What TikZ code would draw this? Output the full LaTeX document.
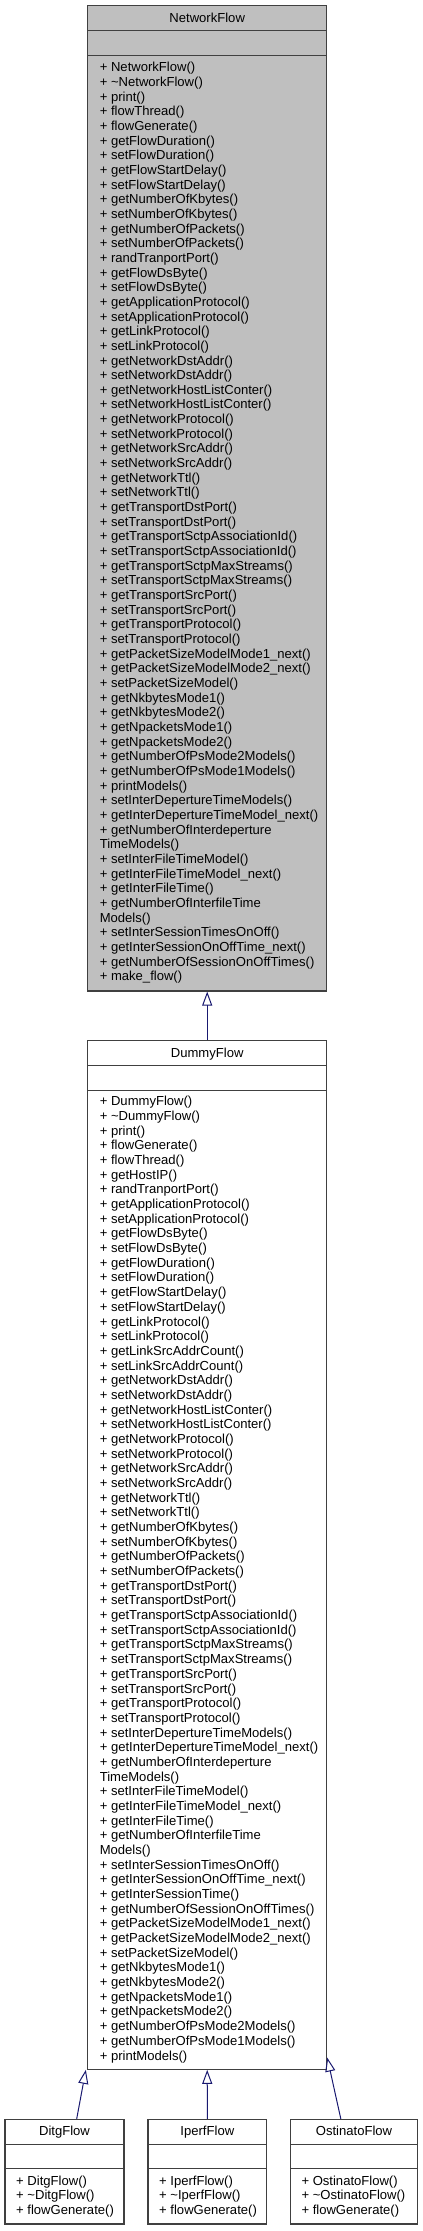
\documentclass[tikz,border=0pt]{standalone}
\usepackage{fontspec}
\setmainfont{Liberation Sans}
\usetikzlibrary{arrows.meta}

\definecolor{edgeblue}{RGB}{25,25,112}
\definecolor{basegray}{RGB}{191,191,191}

\tikzset{every picture/.style={line width=0.75pt}}
\tikzset{
  classbox/.style={draw=black!75, line width=0.8pt, fill=white, inner sep=0pt},
  partline/.style={draw=black!75, line width=0.8pt},
  classname/.style={font=\fontsize{9.8}{11}\selectfont, inner sep=0pt, anchor=base},
  member/.style={font=\fontsize{9.8}{11}\selectfont, anchor=base west, inner sep=0pt},
  inherit/.style={draw=edgeblue, line width=0.75pt, -{Triangle[open, length=10.5pt, width=7.5pt]}}
}

\begin{document}
\begin{tikzpicture}[x=0.75pt,y=0.75pt,yscale=-1,xscale=1]
	\useasboundingbox (0,0) rectangle (423,2231);

	%Shape: Rectangle [NetworkFlow]
	\node [classbox, fill=basegray, minimum width=179.25pt, minimum height=739pt] (nf) at (207.2,498.35) {};
	\draw [partline] ([yshift=19.3pt]nf.north west) -- ([yshift=19.3pt]nf.north east) ;
	\draw [partline] ([yshift=38.1pt]nf.north west) -- ([yshift=38.1pt]nf.north east) ;
	% Text Node
	\node [classname] (nftitle) at (207.2,22.3) {NetworkFlow};
	% Text Nodes
	\foreach \m [count=\i from 0] in {+ NetworkFlow(), + \textasciitilde NetworkFlow(), + print(), + flowThread(), + flowGenerate(),
		+ getFlowDuration(), + setFlowDuration(), + getFlowStartDelay(), + setFlowStartDelay(),
		+ getNumberOfKbytes(), + setNumberOfKbytes(), + getNumberOfPackets(), + setNumberOfPackets(),
		+ randTranportPort(), + getFlowDsByte(), + setFlowDsByte(),
		+ getApplicationProtocol(), + setApplicationProtocol(), + getLinkProtocol(), + setLinkProtocol(),
		+ getNetworkDstAddr(), + setNetworkDstAddr(), + getNetworkHostListConter(), + setNetworkHostListConter(),
		+ getNetworkProtocol(), + setNetworkProtocol(), + getNetworkSrcAddr(), + setNetworkSrcAddr(),
		+ getNetworkTtl(), + setNetworkTtl(), + getTransportDstPort(), + setTransportDstPort(),
		+ getTransportSctpAssociationId(), + setTransportSctpAssociationId(),
		+ getTransportSctpMaxStreams(), + setTransportSctpMaxStreams(),
		+ getTransportSrcPort(), + setTransportSrcPort(), + getTransportProtocol(), + setTransportProtocol(),
		+ getPacketSizeModelMode1\_next(), + getPacketSizeModelMode2\_next(), + setPacketSizeModel(),
		+ getNkbytesMode1(), + getNkbytesMode2(), + getNpacketsMode1(), + getNpacketsMode2(),
		+ getNumberOfPsMode2Models(), + getNumberOfPsMode1Models(), + printModels(),
		+ setInterDepertureTimeModels(), + getInterDepertureTimeModel\_next(),
		+ getNumberOfInterdeperture, TimeModels(),
		+ setInterFileTimeModel(), + getInterFileTimeModel\_next(), + getInterFileTime(),
		+ getNumberOfInterfileTime, Models(),
		+ setInterSessionTimesOnOff(), + getInterSessionOnOffTime\_next(),
		+ getNumberOfSessionOnOffTimes(), + make\_flow()}
		\node [member] (nfop\i) at (99.3,{71.8+14.66*\i}) {\m};

	%Shape: Rectangle [DummyFlow]
	\node [classbox, minimum width=179.25pt, minimum height=771.45pt] (df) at (207.2,1555) {};
	\draw [partline] ([yshift=19.1pt]df.north west) -- ([yshift=19.1pt]df.north east) ;
	\draw [partline] ([yshift=38pt]df.north west) -- ([yshift=38pt]df.north east) ;
	% Text Node
	\node [classname] (dftitle) at (207.2,1057) {DummyFlow};
	% Text Nodes
	\foreach \m [count=\i from 0] in {+ DummyFlow(), + \textasciitilde DummyFlow(), + print(), + flowGenerate(), + flowThread(),
		+ getHostIP(), + randTranportPort(), + getApplicationProtocol(), + setApplicationProtocol(),
		+ getFlowDsByte(), + setFlowDsByte(), + getFlowDuration(), + setFlowDuration(),
		+ getFlowStartDelay(), + setFlowStartDelay(), + getLinkProtocol(), + setLinkProtocol(),
		+ getLinkSrcAddrCount(), + setLinkSrcAddrCount(), + getNetworkDstAddr(), + setNetworkDstAddr(),
		+ getNetworkHostListConter(), + setNetworkHostListConter(), + getNetworkProtocol(), + setNetworkProtocol(),
		+ getNetworkSrcAddr(), + setNetworkSrcAddr(), + getNetworkTtl(), + setNetworkTtl(),
		+ getNumberOfKbytes(), + setNumberOfKbytes(), + getNumberOfPackets(), + setNumberOfPackets(),
		+ getTransportDstPort(), + setTransportDstPort(),
		+ getTransportSctpAssociationId(), + setTransportSctpAssociationId(),
		+ getTransportSctpMaxStreams(), + setTransportSctpMaxStreams(),
		+ getTransportSrcPort(), + setTransportSrcPort(), + getTransportProtocol(), + setTransportProtocol(),
		+ setInterDepertureTimeModels(), + getInterDepertureTimeModel\_next(),
		+ getNumberOfInterdeperture, TimeModels(),
		+ setInterFileTimeModel(), + getInterFileTimeModel\_next(), + getInterFileTime(),
		+ getNumberOfInterfileTime, Models(),
		+ setInterSessionTimesOnOff(), + getInterSessionOnOffTime\_next(), + getInterSessionTime(),
		+ getNumberOfSessionOnOffTimes(), + getPacketSizeModelMode1\_next(), + getPacketSizeModelMode2\_next(),
		+ setPacketSizeModel(), + getNkbytesMode1(), + getNkbytesMode2(), + getNpacketsMode1(), + getNpacketsMode2(),
		+ getNumberOfPsMode2Models(), + getNumberOfPsMode1Models(), + printModels()}
		\node [member] (dfop\i) at (99.3,{1105.8+14.68*\i}) {\m};

	%Shape: Rectangle [DitgFlow]
	\node [classbox, minimum width=89.25pt, minimum height=78.5pt] (ditg) at (64.5,2171.65) {};
	\draw [partline] ([yshift=19.1pt]ditg.north west) -- ([yshift=19.1pt]ditg.north east) ;
	\draw [partline] ([yshift=37.5pt]ditg.north west) -- ([yshift=37.5pt]ditg.north east) ;
	\node [classname] (ditgtitle) at (64.5,2135.5) {DitgFlow};
	\foreach \m [count=\i from 0] in {+ DitgFlow(), + \textasciitilde DitgFlow(), + flowGenerate()}
		\node [member] (ditgop\i) at (15.7,{2185.2+14.65*\i}) {\m};

	%Shape: Rectangle [IperfFlow]
	\node [classbox, minimum width=89pt, minimum height=78.5pt] (iperf) at (207.35,2171.65) {};
	\draw [partline] ([yshift=19.1pt]iperf.north west) -- ([yshift=19.1pt]iperf.north east) ;
	\draw [partline] ([yshift=37.5pt]iperf.north west) -- ([yshift=37.5pt]iperf.north east) ;
	\node [classname] (iperftitle) at (207.35,2135.5) {IperfFlow};
	\foreach \m [count=\i from 0] in {+ IperfFlow(), + \textasciitilde IperfFlow(), + flowGenerate()}
		\node [member] (iperfop\i) at (158.7,{2185.2+14.65*\i}) {\m};

	%Shape: Rectangle [OstinatoFlow]
	\node [classbox, minimum width=95pt, minimum height=78.5pt] (osti) at (354,2171.65) {};
	\draw [partline] ([yshift=19.1pt]osti.north west) -- ([yshift=19.1pt]osti.north east) ;
	\draw [partline] ([yshift=37.5pt]osti.north west) -- ([yshift=37.5pt]osti.north east) ;
	\node [classname] (ostititle) at (354,2135.5) {OstinatoFlow};
	\foreach \m [count=\i from 0] in {+ OstinatoFlow(), + \textasciitilde OstinatoFlow(), + flowGenerate()}
		\node [member] (ostiop\i) at (301,{2185.2+14.65*\i}) {\m};

	%Straight Lines [inheritance]
	\draw [inherit] (df.north) -- (nf.south) ;
	\draw [inherit] (ditg.77) -- ([xshift=-1pt]df.south west) ;
	\draw [inherit] (iperf.north) -- (df.south) ;
	\draw [inherit] (osti.104) -- ([yshift=-9.2pt]df.south east) ;

\end{tikzpicture}
\end{document}
